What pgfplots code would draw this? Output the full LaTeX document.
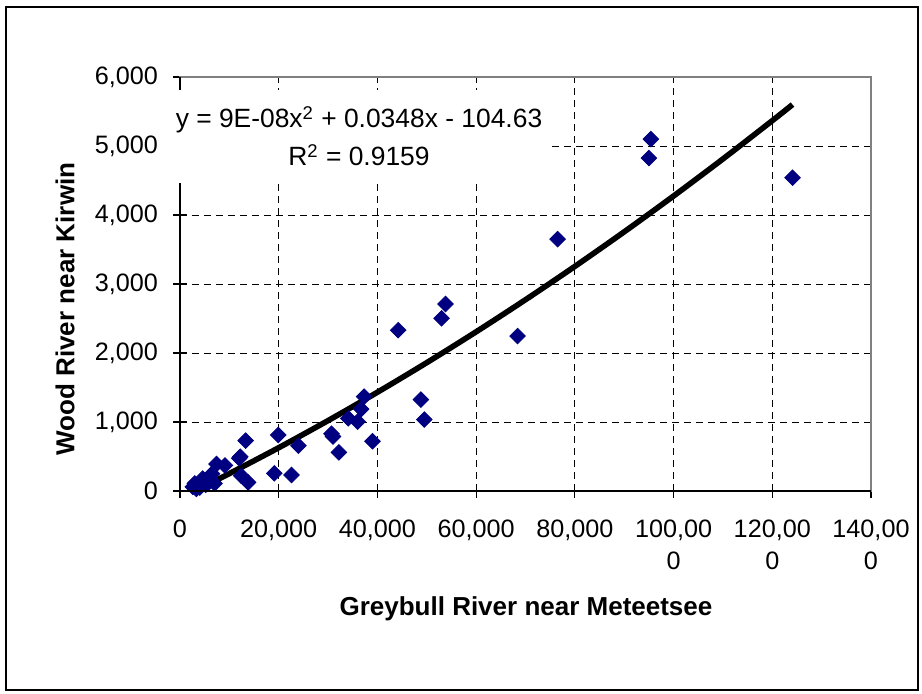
\documentclass[border=0pt]{standalone}
\usepackage{pgfplots}
\pgfplotsset{compat=1.18}
\usepackage{fontspec}
\setmainfont{Liberation Sans}
\definecolor{ptnavy}{RGB}{0,0,128}

\begin{document}
\begin{tikzpicture}
\useasboundingbox (0pt,0pt) rectangle (461pt,-347pt);
\draw[black, line width=0.75pt] (3pt,-3.5pt) rectangle (459pt,-345pt);
\begin{axis}[
name=ax,
at={(90pt,-245.5pt)}, anchor=south west,
scale only axis,
width=345.5pt, height=207pt,
xmin=0, xmax=140000,
ymin=0, ymax=6000,
xtick={0,20000,40000,60000,80000,100000,120000,140000},
xticklabels={0,{20,000},{40,000},{60,000},{80,000},{100,00\\0},{120,00\\0},{140,00\\0}},
ytick={0,1000,2000,3000,4000,5000,6000},
yticklabels={0,{1,000},{2,000},{3,000},{4,000},{5,000},{6,000}},
scaled ticks=false,
xtick pos=bottom, ytick pos=left,
tick align=center,
major tick length=7pt,
tick style={black, line width=0.6pt},
xticklabel style={font=\fontsize{12.6}{16}\selectfont, align=center, anchor=north, yshift=-7.5pt},
yticklabel style={font=\fontsize{12.6}{15}\selectfont, anchor=east, xshift=-4pt},
axis line style={gray, line width=0.8pt},
xmajorgrids, ymajorgrids,
grid style={black, line width=0.5pt, dash pattern=on 3.5pt off 2.5pt},
xlabel={\textbf{Greybull River near Meteetsee}},
ylabel={\textbf{Wood River near Kirwin}},
label style={font=\fontsize{13}{15}\selectfont},
xlabel style={at={(axis description cs:0.5007,-0.284)}, anchor=center},
ylabel style={at={(axis description cs:-0.1664,0.4396)}, anchor=center},
clip=false,
]
% observed pairs
\addplot[only marks, mark=square*, mark size=2.75pt,
  mark options={fill=ptnavy, draw=ptnavy, rotate=45}]
coordinates {
(2600,60)(3000,110)(3300,30)(4000,50)(4600,180)(5200,90)(5800,120)(6500,250)(7000,110)
(7400,391)(9100,370)(12000,473)(12200,497)(12400,222)(13300,730)(13800,125)
(19100,256)(19900,812)(22600,232)(24000,657)
(30700,830)(31000,790)(32200,560)(34100,1053)(36000,1005)(36700,1188)(37300,1367)(39000,720)
(44200,2330)(48800,1325)(49500,1035)(53000,2503)(53800,2710)
(68400,2246)(76500,3650)(95000,4826)(95400,5101)(124100,4541)
};
% polynomial trendline y = 9E-08x^2 + 0.0348x - 104.63
\addplot[black, line width=2.8pt, smooth] coordinates {
(2700,-10.0)(10000,252.4)(20000,627.4)(30000,1020.4)(40000,1431.4)(50000,1860.4)
(60000,2307.4)(70000,2772.4)(80000,3255.4)(90000,3756.4)(100000,4275.4)
(110000,4812.4)(120000,5367.4)(124100,5600.2)
};
\end{axis}
\draw[black, line width=0.9pt] (ax.north west) -- (ax.south west) -- (ax.south east);
\fill[white] (85pt,-45pt) rectangle (274.5pt,-91.5pt);
\node[anchor=base, inner sep=0pt, font=\fontsize{13.2}{15}\selectfont] at (179.5pt,-64pt) {y = 9E-08x\textsuperscript{2} + 0.0348x - 104.63};
\node[anchor=base, inner sep=0pt, font=\fontsize{13.2}{15}\selectfont] at (179.5pt,-83pt) {R\textsuperscript{2} = 0.9159};
\end{tikzpicture}
\end{document}
